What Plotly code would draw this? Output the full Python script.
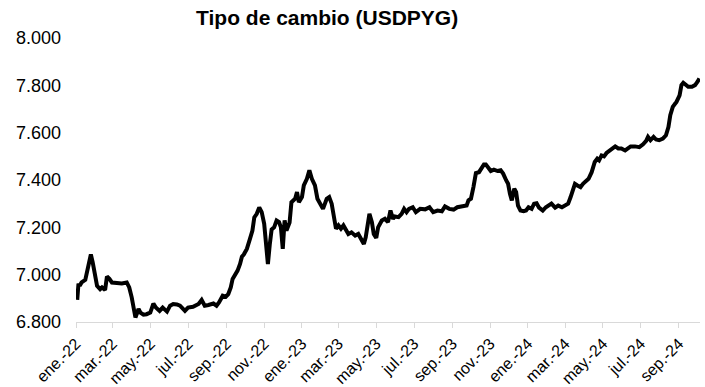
import pandas as pd
import plotly.graph_objects as go

# Days elapsed since 2022-01-01 for each observation
day_offset = [2, 4, 6, 9, 15, 18, 24, 27, 31, 34, 39, 42, 47, 50, 54, 58, 66, 74, 82, 86,
              90, 93, 96, 101, 104, 109, 114, 120, 125, 129, 135, 140, 147, 152, 157, 163, 168, 176, 181, 189,
              198, 203, 208, 214, 222, 227, 231, 237, 242, 246, 250, 253, 257, 261, 265, 268, 271, 276, 281, 285,
              288, 292, 296, 300, 304, 307, 310, 313, 316, 320, 324, 328, 331, 334, 337, 340, 345, 348, 354, 357,
              360, 365, 368, 373, 377, 381, 386, 390, 394, 399, 405, 409, 413, 417, 420, 424, 428, 432, 436, 440,
              445, 451, 456, 461, 465, 468, 471, 474, 478, 481, 485, 488, 494, 499, 504, 508, 512, 515, 521, 526,
              530, 534, 538, 544, 549, 556, 564, 571, 577, 584, 591, 596, 603, 610, 616, 620, 626, 631, 634, 638,
              642, 646, 651, 655, 659, 662, 666, 670, 675, 681, 686, 690, 695, 698, 701, 704, 708, 711, 714, 718,
              723, 727, 731, 736, 740, 744, 748, 754, 759, 765, 768, 774, 779, 785, 790, 795, 799, 802, 806, 810,
              815, 819, 825, 828, 833, 838, 842, 845, 849, 853, 857, 863, 867, 871, 876, 881, 887, 892, 896, 903,
              910, 916, 921, 924, 928, 933, 937, 942, 948, 953, 957, 960, 964, 968, 970, 975, 978, 981, 985, 989,
              995, 1000, 1004, 1007]

# Guaraníes per US dollar
usdpyg = [6894, 6962, 6953, 6967, 6978, 7010, 7085, 7052, 6989, 6953, 6939, 6946, 6935, 6992, 6982, 6967, 6965, 6963, 6967, 6946,
          6904, 6847, 6819, 6855, 6840, 6831, 6833, 6840, 6878, 6861, 6847, 6861, 6844, 6869, 6876, 6874, 6869, 6847, 6861, 6864,
          6876, 6893, 6869, 6872, 6878, 6869, 6883, 6911, 6907, 6918, 6946, 6982, 6996, 7017, 7045, 7076, 7085, 7109, 7151, 7186,
          7242, 7257, 7284, 7264, 7215, 7116, 7045, 7127, 7191, 7200, 7229, 7222, 7200, 7109, 7229, 7186, 7220, 7306, 7321, 7349,
          7306, 7328, 7377, 7405, 7441, 7405, 7377, 7321, 7301, 7278, 7321, 7328, 7300, 7243, 7194, 7208, 7194, 7208, 7186, 7172,
          7179, 7165, 7172, 7151, 7130, 7158, 7208, 7257, 7222, 7172, 7155, 7200, 7229, 7236, 7222, 7271, 7236, 7246, 7243, 7257,
          7278, 7264, 7278, 7285, 7264, 7278, 7276, 7285, 7264, 7271, 7268, 7288, 7278, 7275, 7285, 7288, 7292, 7292, 7314, 7321,
          7370, 7429, 7433, 7452, 7466, 7466, 7448, 7438, 7444, 7438, 7441, 7427, 7398, 7384, 7342, 7314, 7363, 7349, 7292, 7271,
          7268, 7271, 7285, 7278, 7300, 7302, 7283, 7271, 7285, 7292, 7300, 7283, 7292, 7285, 7292, 7300, 7328, 7349, 7384, 7377,
          7370, 7384, 7398, 7405, 7433, 7476, 7490, 7483, 7504, 7500, 7514, 7525, 7537, 7542, 7533, 7533, 7525, 7533, 7542, 7542,
          7539, 7551, 7565, 7582, 7568, 7582, 7571, 7568, 7575, 7589, 7624, 7674, 7709, 7723, 7730, 7758, 7801, 7811, 7801, 7794,
          7794, 7801, 7815, 7829]

tick_dates = ["2022-01-01", "2022-03-01", "2022-05-01", "2022-07-01", "2022-09-01", "2022-11-01",
              "2023-01-01", "2023-03-01", "2023-05-01", "2023-07-01", "2023-09-01", "2023-11-01",
              "2024-01-01", "2024-03-01", "2024-05-01", "2024-07-01", "2024-09-01"]
tick_labels = ["ene.-22", "mar.-22", "may.-22", "jul.-22", "sep.-22", "nov.-22",
               "ene.-23", "mar.-23", "may.-23", "jul.-23", "sep.-23", "nov.-23",
               "ene.-24", "mar.-24", "may.-24", "jul.-24", "sep.-24"]
y_ticks = [6800, 7000, 7200, 7400, 7600, 7800, 8000]

dates = pd.Timestamp("2022-01-01") + pd.to_timedelta(day_offset, unit="D")

fig = go.Figure(go.Scatter(
    x=dates, y=usdpyg, mode="lines",
    line=dict(color="#000000", width=4),
    hoverinfo="skip",
))

fig.update_layout(
    width=705, height=387,
    margin=dict(l=76, r=5, t=38, b=65, autoexpand=False),
    paper_bgcolor="white", plot_bgcolor="white",
    separators=",.",
    showlegend=False,
    font=dict(family="Liberation Sans, Arial, sans-serif", color="#000000"),
    title=dict(text="<b>Tipo de cambio (USDPYG)</b>", x=0.464, xref="container",
               xanchor="center", y=0.955, yanchor="middle", font=dict(size=21, color="#000000")),
)

fig.update_xaxes(
    type="date",
    range=["2022-01-01", "2024-10-05"],
    tickmode="array", tickvals=tick_dates, ticktext=tick_labels,
    tickangle=-45,
    tickfont=dict(size=16, color="#000000"),
    showgrid=False, zeroline=False,
    showline=True, linecolor="#d9d9d9", linewidth=1,
    ticks="outside", ticklen=5, tickcolor="#d9d9d9",
    automargin=False,
)

fig.update_yaxes(
    range=[6800, 8000],
    tickmode="array", tickvals=y_ticks,
    tickformat=",d",
    tickfont=dict(size=18, color="#000000"),
    showgrid=False, zeroline=False, showline=False,
    ticks="", ticklabelstandoff=14, automargin=False,
)

fig.write_html("out.html", config={"displayModeBar": False},
               post_script="document.body.style.margin='0';")
